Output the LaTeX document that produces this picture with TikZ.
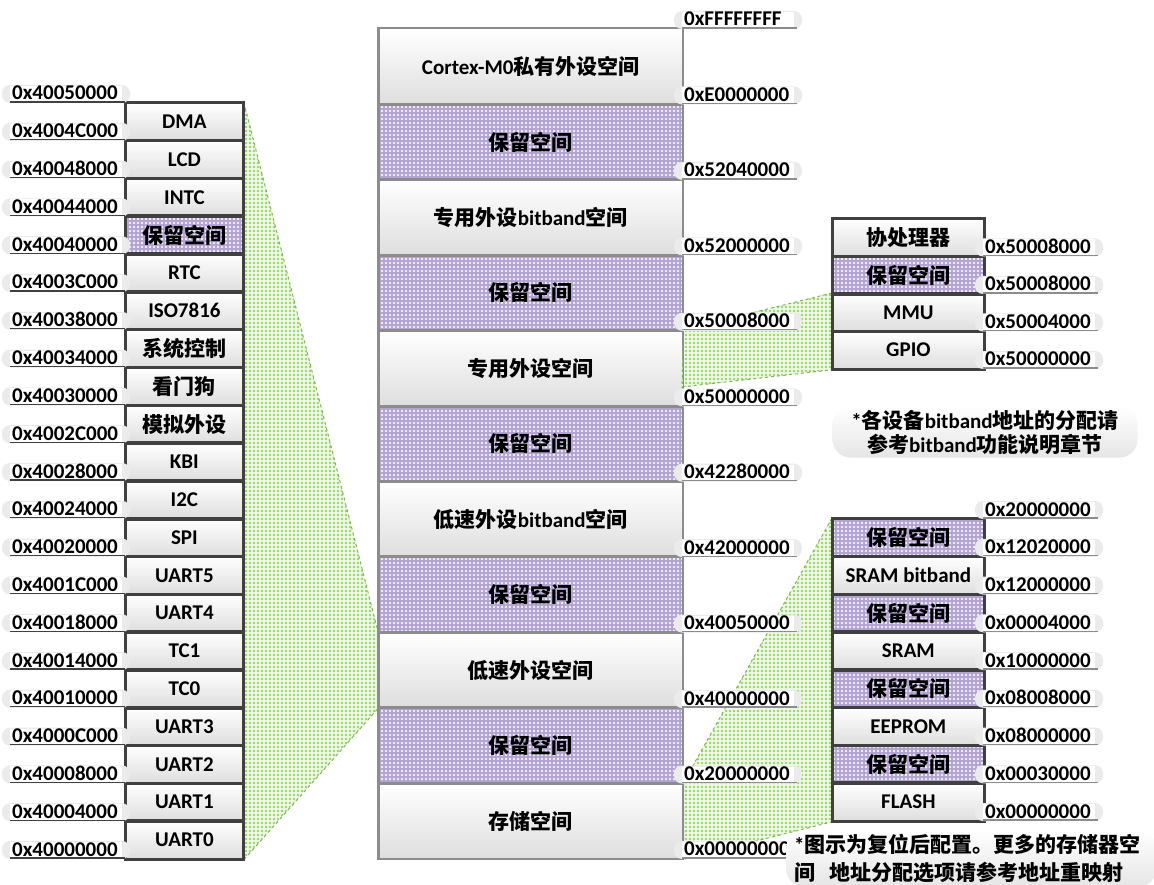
\documentclass[tikz,border=0pt]{standalone}
\usepackage{fontspec}
\setmainfont{Carlito}
\newfontfamily\cjk{Noto Sans CJK SC}
\usetikzlibrary{patterns}
\pgfdeclarepatternformonly{mydots}{\pgfqpoint{-1pt}{-1pt}}{\pgfqpoint{5pt}{5pt}}{\pgfqpoint{4pt}{4pt}}{\pgfpathcircle{\pgfqpoint{2pt}{2pt}}{1.3pt}\pgfusepath{fill}}
\definecolor{purp}{RGB}{178,162,208}
\definecolor{grn}{RGB}{150,212,105}
\definecolor{grnbg}{RGB}{238,248,230}
\definecolor{dk}{RGB}{64,64,64}
\definecolor{md}{RGB}{140,140,140}
\newcommand\zh[1]{{\cjk\bfseries #1}}
\newcommand\addr[5]{%
  \fill[black!8, rounded corners=8pt] (#2-10,#3-17) rectangle (#2+118,#3+1);
  \fill[white] (#2-2,#3-16) rectangle (#2+110,#3);
  \draw[line width=1.3pt, draw=#5] (#2-2,#3) -- (#2+113,#3);
  \node[lab] (#1) at (#2,#3-2) {0x#4};
}
\begin{document}
\begin{tikzpicture}[x=1pt,y=-1pt,
  base/.style={font=\fontsize{21}{24}\selectfont\bfseries, inner sep=0pt, anchor=north west, text=black},
  lab/.style={font=\fontsize{21}{24}\selectfont\bfseries, inner sep=0pt, anchor=base west, text=black},
  cbox/.style={base, minimum width=304pt, minimum height=75.45pt, draw=md, line width=1.5pt},
  lbox/.style={base, minimum width=117pt, minimum height=37.8pt, draw=dk, line width=1.8pt},
  rbox/.style={base, minimum width=151pt, minimum height=37.5pt, draw=dk, line width=1.8pt},
  sbox/.style={base, minimum width=151pt, minimum height=37.75pt, draw=dk, line width=1.8pt},
  wbox/.style={top color=white, bottom color=black!13},
  pbox/.style={preaction={fill=purp}, pattern=mydots, pattern color=white!85!purp},
  greenfill/.style={preaction={fill=grnbg}, pattern=mydots, pattern color=grn, draw=grn!85!black, dashed, line width=1pt},
  notebox/.style={font=\fontsize{21}{24}\selectfont\bfseries, rounded corners=18pt, top color=white, bottom color=black!10, inner sep=0pt}
]
\useasboundingbox (0,0) rectangle (1154,885);

% central column
\foreach \i/\t in {0/{Cortex-M0\zh{私有外设空间}},2/{\zh{专用外设}bitband\zh{空间}},4/{\zh{专用外设空间}},6/{\zh{低速外设}bitband\zh{空间}},8/{\zh{低速外设空间}},10/{\zh{存储空间}}}
  \node[cbox,wbox] (c\i) at (378,28+\i*75.45) {\t};
\foreach \i in {1,3,5,7,9}
  \node[cbox,pbox] (c\i) at (378,28+\i*75.45) {\zh{保留空间}};

% left column
\foreach \i/\t in {0/DMA,1/LCD,2/INTC,4/RTC,5/ISO7816,6/{\zh{系统控制}},7/{\zh{看门狗}},8/{\zh{模拟外设}},9/KBI,10/I2C,11/SPI,12/UART5,13/UART4,14/TC1,15/TC0,16/UART3,17/UART2,18/UART1,19/UART0}
  \node[lbox,wbox] (l\i) at (125,102+\i*37.8) {\t};
\node[lbox,pbox] (l3) at (125,102+3*37.8) {\zh{保留空间}};

% right top column
\node[rbox,wbox] (r0) at (832,218) {\zh{协处理器}};
\node[rbox,pbox] (r1) at (832,255.5) {\zh{保留空间}};
\node[rbox,wbox] (r2) at (832,293) {MMU};
\node[rbox,wbox] (r3) at (832,330.5) {GPIO};

% right bottom column
\foreach \i/\t in {1/{SRAM bitband},3/SRAM,5/EEPROM,7/FLASH}
  \node[sbox,wbox] (s\i) at (832,518+\i*37.75) {\t};
\foreach \i in {0,2,4,6}
  \node[sbox,pbox] (s\i) at (832,518+\i*37.75) {\zh{保留空间}};

% green expansion regions
\coordinate (g1) at (682,387);
\path[greenfill] (l0.north east) -- (c8.north west) -- (c8.south west) -- (l19.south east) -- cycle;
\path[greenfill] (c4.north east) -- (r2.north west) -- (r3.south west) -- (g1) -- cycle;
\path[greenfill] (c10.north east) -- (s0.north west) -- (s7.south west) -- (c10.south east) -- cycle;

% redraw box borders over green
\foreach \n in {l0,l1,l2,l3,l4,l5,l6,l7,l8,l9,l10,l11,l12,l13,l14,l15,l16,l17,l18,l19,r0,r1,r2,r3,s0,s1,s2,s3,s4,s5,s6,s7}
  \draw[dk, line width=1.8pt] (\n.north west) rectangle (\n.south east);
\foreach \n in {c0,c1,c2,c3,c4,c5,c6,c7,c8,c9,c10}
  \draw[md, line width=1.5pt] (\n.north west) rectangle (\n.south east);

% address labels
\foreach \a [count=\i from 0] in {40050000,4004C000,40048000,40044000,40040000,4003C000,40038000,40034000,40030000,4002C000,40028000,40024000,40020000,4001C000,40018000,40014000,40010000,4000C000,40008000,40004000,40000000}
  {\addr{la\i}{12}{102+\i*37.8}{\a}{dk}}
\foreach \a [count=\i from 0] in {FFFFFFFF,E0000000,52040000,52000000,50008000,50000000,42280000,42000000,40050000,40000000,20000000,00000000}
  {\addr{ca\i}{684}{28+\i*75.45}{\a}{md}}
\foreach \a [count=\i from 1] in {50008000,50008000,50004000,50000000}
  {\addr{ra\i}{985}{218+\i*37.5}{\a}{md}}
\foreach \a [count=\i from 0] in {20000000,12020000,12000000,00004000,10000000,08008000,08000000,00030000,00000000}
  {\addr{sa\i}{985}{518+\i*37.75}{\a}{md}}

% notes
\node[notebox, minimum width=305pt, minimum height=51pt, align=center] (n1) at (985,432)
  {*\zh{各设备}bitband\zh{地址的分配请}\\\zh{参考}bitband\zh{功能说明章节}};
\node[notebox, anchor=north west, text width=354pt, inner xsep=8pt, inner ysep=4pt, align=left, font=\fontsize{21}{28}\selectfont\bfseries] (n2) at (786,830)
  {*\zh{图示为复位后配置。更多的存储器空}\\\zh{间\ \ 地址分配选项请参考地址重映射}};
\end{tikzpicture}
\end{document}
